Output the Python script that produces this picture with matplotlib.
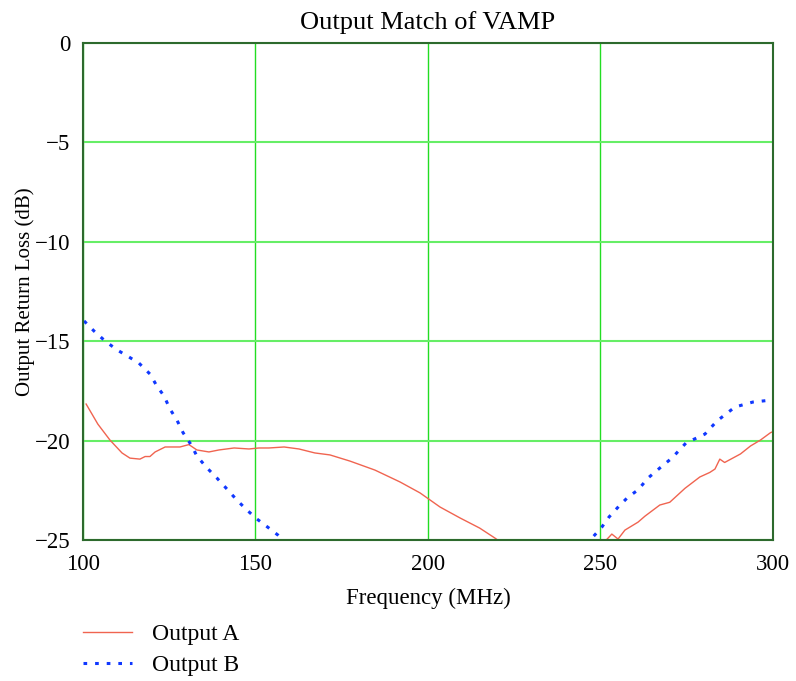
import numpy as np
import matplotlib.pyplot as plt

plt.rcParams['font.family'] = ['Liberation Serif', 'DejaVu Serif']
plt.rcParams['axes.unicode_minus'] = True

# Output A return loss (MHz, dB)
freq_a = [100.9, 104.3, 107.8, 111.3, 113.6, 116.5, 118.0, 119.4, 120.9, 123.8,
          128.1, 130.7, 133.0, 136.5, 139.4, 143.8, 148.1, 151.0, 153.9, 158.3,
          162.6, 167.2, 171.6, 177.4, 184.6, 191.9, 197.7, 203.5, 209.3, 215.0,
          219.4, 225.0, 235.0, 245.0, 250.0, 252.5, 253.3, 255.1, 257.1, 260.9,
          262.9, 267.2, 270.1, 274.5, 278.8, 281.7, 283.2, 284.6, 286.0, 290.6,
          293.5, 296.4, 299.3, 300.0]
loss_a = [-18.16, -19.17, -19.97, -20.62, -20.88, -20.93, -20.80, -20.80, -20.57, -20.32,
          -20.32, -20.20, -20.47, -20.57, -20.47, -20.37, -20.42, -20.37, -20.37, -20.32,
          -20.42, -20.62, -20.72, -21.03, -21.48, -22.08, -22.63, -23.34, -23.89, -24.40,
          -24.90, -25.6, -26.2, -25.9, -25.3, -24.85, -24.70, -24.95, -24.50, -24.10,
          -23.80, -23.24, -23.10, -22.40, -21.83, -21.60, -21.43, -20.93, -21.10, -20.67,
          -20.27, -19.97, -19.60, -19.55]

# Output B return loss (MHz, dB)
freq_b = [100.3, 103.2, 106.4, 109.9, 112.8, 116.2, 119.4, 121.4, 123.5, 125.2,
          127.2, 129.0, 131.3, 133.0, 135.7, 138.8, 141.7, 144.6, 147.5, 150.4,
          153.9, 156.5, 160.0, 180.0, 200.0, 220.0, 240.0, 245.0, 247.8, 250.4,
          252.5, 255.4, 258.0, 260.9, 263.8, 267.2, 270.7, 274.8, 280.3, 283.8,
          289.0, 294.2, 297.4, 300.0]
loss_b = [-13.98, -14.49, -14.99, -15.44, -15.74, -16.10, -16.65, -17.25, -17.76, -18.41,
          -18.96, -19.60, -20.20, -20.77, -21.33, -21.88, -22.43, -22.99, -23.49, -23.94,
          -24.40, -24.75, -25.4, -27.5, -29.0, -29.5, -27.0, -25.8, -24.85, -24.35,
          -23.84, -23.29, -22.84, -22.48, -21.88, -21.38, -20.88, -20.12, -19.67, -19.01,
          -18.31, -18.06, -18.00, -17.95]

fig = plt.figure(figsize=(7.96, 6.81), dpi=100)
ax = fig.add_axes([0.1043, 0.2070, 0.8667, 0.7299])

line_a, = ax.plot(freq_a, loss_a, color='#f06450', lw=1.0, label='Output A')
line_b, = ax.plot(freq_b, loss_b, color='#1038ff', lw=2.2, dashes=(1.2, 2.6),
                  label='Output B')

ax.set_xlim(100, 300)
ax.set_ylim(-25, 0)
ax.set_xticks([100, 150, 200, 250, 300])
ax.set_yticks([0, -5, -10, -15, -20, -25])
ax.tick_params(length=0, labelsize=16.5)
ax.tick_params(axis='x', pad=10)
ax.tick_params(axis='y', pad=9)
ax.xaxis.grid(True, color='#22dd22', lw=1.0)
ax.yaxis.grid(True, color='#66ee66', lw=1.5)
ax.set_axisbelow(True)
for s in ax.spines.values():
    s.set_color('#2d6a2d')
    s.set_linewidth(1.5)

ax.set_title('Output Match of VAMP', fontsize=19, pad=10)
ax.set_xlabel('Frequency (MHz)', fontsize=16.5, labelpad=9)
ax.set_ylabel('Output Return Loss (dB)', fontsize=15, labelpad=0)

fig.legend(handles=[line_a, line_b], loc='upper left',
           bbox_to_anchor=(0.104, 0.084), frameon=False, fontsize=17,
           handlelength=2.1, handletextpad=0.85, labelspacing=0.38,
           borderpad=0, borderaxespad=0)

fig.savefig('out.png', dpi=100)
